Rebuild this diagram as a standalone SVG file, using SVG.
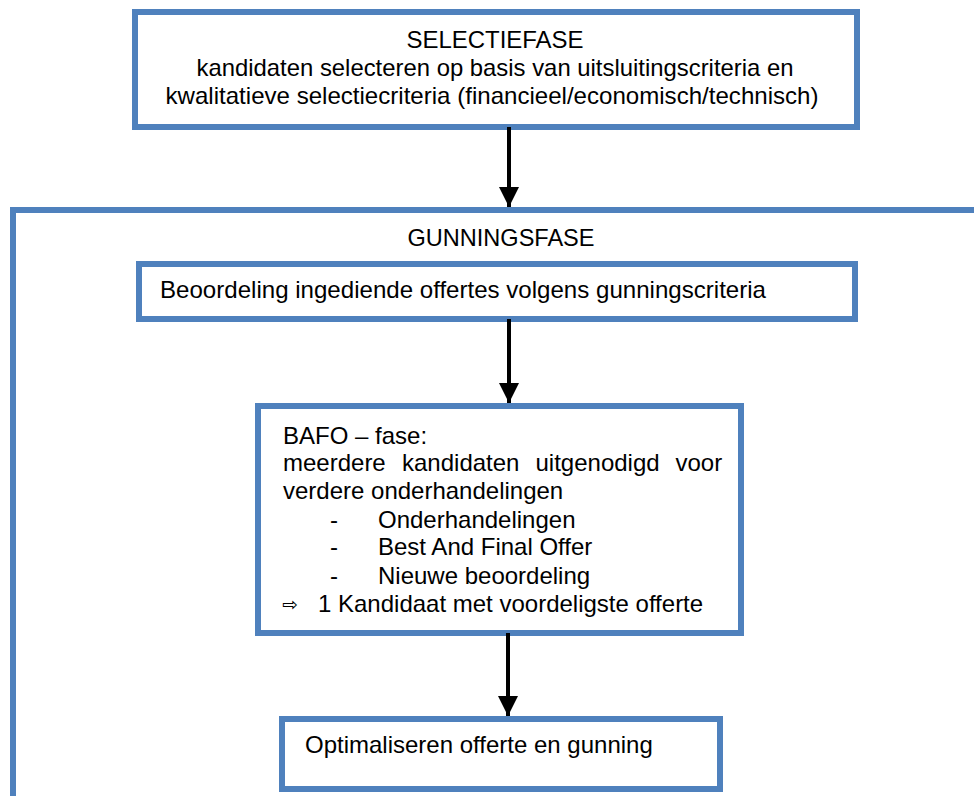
<svg xmlns="http://www.w3.org/2000/svg" width="974" height="796" viewBox="0 0 974 796">
<style>
.box{fill:#fff;stroke:#4f81bd;stroke-width:6}
.t{font-family:"Liberation Sans",Arial,sans-serif;font-size:24px;fill:#000}
.c{text-anchor:middle}
.ln{stroke:#000;stroke-width:4;fill:none}
</style>
<defs>
<marker id="ah" viewBox="0 0 10 10" refX="10" refY="5" markerWidth="5" markerHeight="5" markerUnits="strokeWidth" orient="auto">
<path d="M0,0 L10,5 L0,10 Z" fill="#000"/>
</marker>
</defs>
<rect width="974" height="796" fill="#fff"/>
<g id="gunningsfase">
<rect class="box" x="13" y="210" width="990" height="620"/>
<text class="t c" x="501" y="246" textLength="187" lengthAdjust="spacingAndGlyphs">GUNNINGSFASE</text>
</g>
<g id="selectiefase">
<rect class="box" x="135" y="12" width="722" height="115"/>
<text class="t c" x="495" y="48" textLength="177" lengthAdjust="spacingAndGlyphs">SELECTIEFASE</text>
<text class="t c" x="495" y="76" textLength="597" lengthAdjust="spacingAndGlyphs">kandidaten selecteren op basis van uitsluitingscriteria en</text>
<text class="t c" x="492" y="104" textLength="653" lengthAdjust="spacingAndGlyphs">kwalitatieve selectiecriteria (financieel/economisch/technisch)</text>
</g>
<g id="beoordeling">
<rect class="box" x="139" y="264" width="716" height="55"/>
<text class="t" x="160" y="298" textLength="606" lengthAdjust="spacingAndGlyphs">Beoordeling ingediende offertes volgens gunningscriteria</text>
</g>
<g id="bafo">
<rect class="box" x="258" y="406" width="483" height="227"/>
<text class="t" x="283" y="444">BAFO – fase:</text>
<text class="t" y="471"><tspan x="283">meerdere</tspan> <tspan x="402">kandidaten</tspan> <tspan x="535.5">uitgenodigd</tspan> <tspan x="675.5">voor</tspan></text>
<text class="t" x="283" y="499">verdere onderhandelingen</text>
<text class="t" x="330" y="528">-</text>
<text class="t" x="378" y="528">Onderhandelingen</text>
<text class="t" x="330" y="555">-</text>
<text class="t" x="378" y="555">Best And Final Offer</text>
<text class="t" x="330" y="584">-</text>
<text class="t" x="378" y="584">Nieuwe beoordeling</text>
<text class="t" x="282" y="611" style="font-family:'DejaVu Sans',sans-serif;font-size:19px">⇨</text>
<text class="t" x="318" y="612">1 Kandidaat met voordeligste offerte</text>
</g>
<g id="optimaliseren">
<rect class="box" x="282" y="719" width="438" height="70"/>
<text class="t" x="305" y="753">Optimaliseren offerte en gunning</text>
</g>
<g id="connectors">
<line class="ln" x1="509" y1="127" x2="509" y2="207" marker-end="url(#ah)"/>
<line class="ln" x1="509" y1="319" x2="509" y2="403" marker-end="url(#ah)"/>
<line class="ln" x1="508" y1="633" x2="508" y2="716" marker-end="url(#ah)"/>
</g>
</svg>
